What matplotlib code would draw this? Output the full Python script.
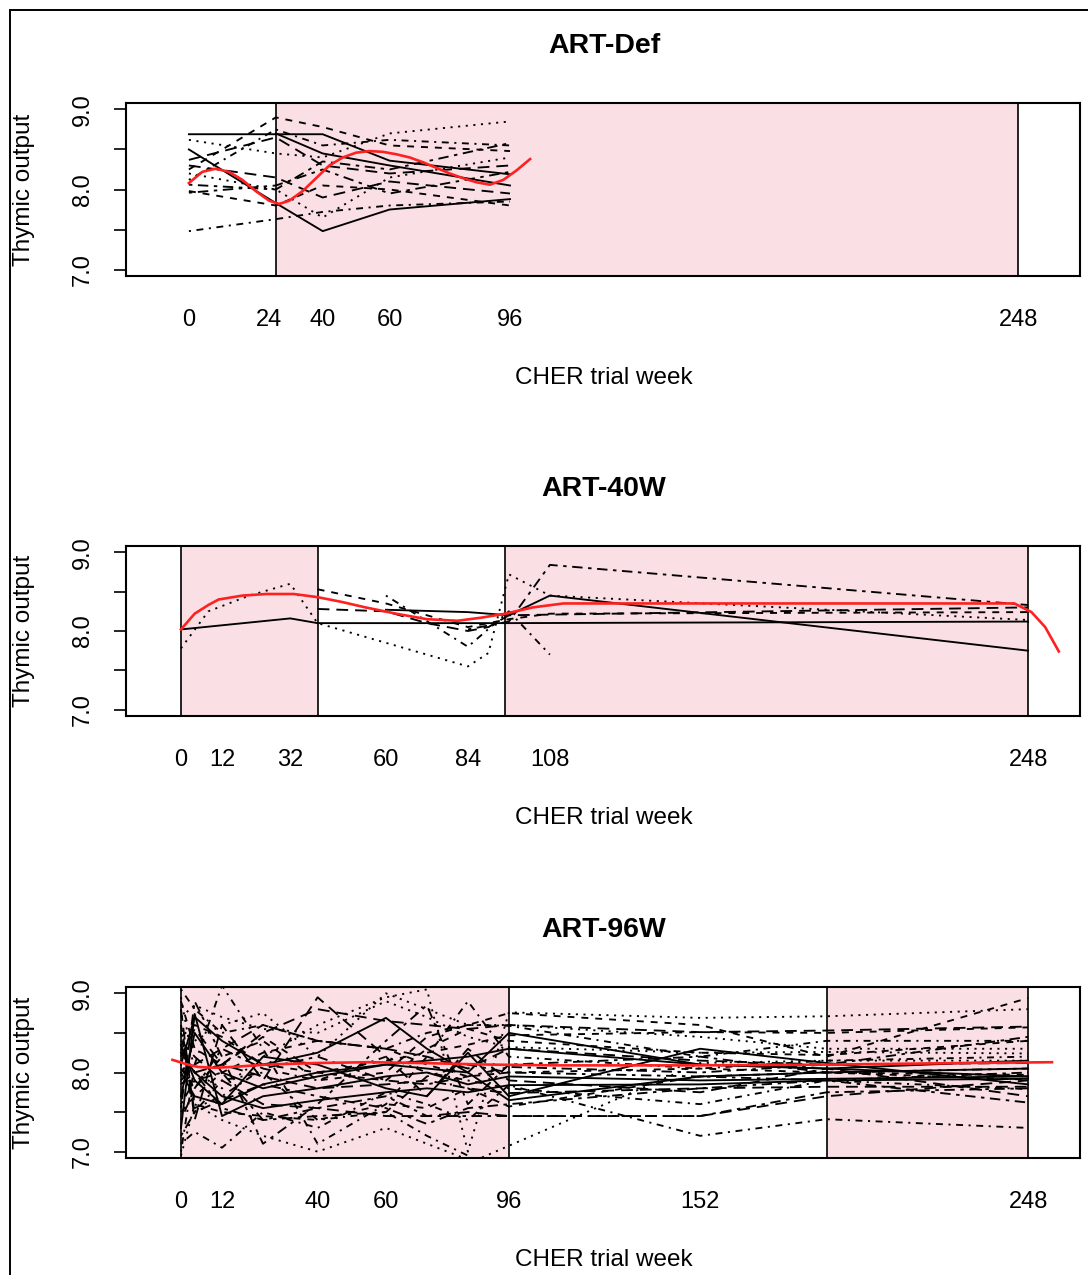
import numpy as np
import matplotlib.pyplot as plt
from matplotlib.patches import Rectangle

plt.rcParams['font.family'] = ['Liberation Sans', 'DejaVu Sans']
plt.rcParams['lines.scale_dashes'] = False

W, H = 1088, 1275
PINK = '#FAE0E5'
RED = '#FF2020'
N = np.nan

# R style line types, cycled over patients
LTY = ['-', (0, (5, 5)), (0, (1.5, 4)), (0, (1.5, 4, 5, 4)),
       (0, (8.5, 5)), (0, (2.5, 4, 7.5, 4))]

# ---------------- ART-Def ----------------
def_weeks = [0, 26, 40, 60, 96]
def_values = [
    [8.69, 8.69, 8.69, 8.36, 8.19],
    [8.25, 8.90, 8.78, 8.55, 8.48],
    [8.62, 8.45, 8.40, 8.70, 8.85],
    [7.48, 7.63, 7.72, 7.80, 7.85],
    [8.37, 8.65, 8.30, 8.20, 8.30],
    [8.06, 8.00, 8.35, 8.25, 8.58],
    [8.50, 7.83, 7.48, 7.75, 7.88],
    [7.98, 7.80, 8.05, 8.00, 7.80],
    [8.20, 8.00, 7.65, 8.15, 8.40],
    [8.12, 8.75, 8.55, 8.62, 8.55],
    [8.30, 8.15, 7.90, 8.10, 7.95],
    [7.96, 8.05, 8.25, 7.95, 8.22],
    [N, 8.70, 8.45, 8.30, 8.05],
]
def_trend_weeks = [0, 4, 8, 12, 16, 20, 24, 27, 30, 34, 38, 42, 46, 50, 54,
                   58, 62, 66, 70, 74, 78, 82, 86, 90, 94, 98, 102]
def_trend_values = [8.08, 8.22, 8.26, 8.22, 8.12, 7.98, 7.86, 7.82, 7.86, 7.98,
                    8.14, 8.30, 8.40, 8.46, 8.48, 8.47, 8.44, 8.40, 8.34, 8.27,
                    8.20, 8.14, 8.09, 8.06, 8.12, 8.24, 8.38]
def_ticks = [0, 24, 40, 60, 96, 248]
def_art = [(26, 248)]
def_cuts = [26, 248]

# ---------------- ART-40W ----------------
w40_weeks = [0, 8, 20, 32, 40, 60, 72, 84, 90, 96, 108, 248]
w40_values = [
    [8.02, N, N, 8.16, 8.10, N, N, N, N, 8.10, N, 8.12],
    [N, N, N, N, 8.53, 8.35, 8.20, 8.05, N, 8.15, 8.22, 8.24],
    [7.78, 8.25, 8.45, 8.60, 8.10, N, N, 7.55, 7.72, 8.72, 8.45, 8.14],
    [N, N, N, N, N, 8.45, N, 7.80, N, 8.25, 7.70, N],
    [N, N, N, N, 8.28, 8.25, 8.10, 8.00, 8.05, 8.20, N, 8.30],
    [N, N, N, N, N, N, N, 8.02, N, 8.12, 8.84, 8.33],
    [N, N, N, N, N, 8.27, N, 8.24, N, 8.20, 8.45, 7.75],
]
w40_trend_weeks = [0, 4, 8, 11, 18, 25, 33, 40, 47, 54, 63, 72, 81, 88, 95,
                   103, 112, 125, 150, 200, 244, 249, 253, 257]
w40_trend_values = [8.02, 8.22, 8.33, 8.40, 8.45, 8.47, 8.47, 8.43, 8.37, 8.30,
                    8.22, 8.15, 8.13, 8.17, 8.22, 8.30, 8.35, 8.35, 8.35, 8.35,
                    8.35, 8.24, 8.05, 7.74]
w40_ticks = [0, 12, 32, 60, 84, 108, 248]
w40_art = [(0, 40), (95, 248)]
w40_cuts = [0, 40, 95, 248]

# ---------------- ART-96W ----------------
w96_weeks = [0, 4, 12, 24, 40, 60, 72, 84, 96, 152, 189, 248]
w96_values = [
    [7.30, 8.74, 7.45, 7.70, 7.80, 7.95, 8.00, 7.85, 7.95, 7.90, 7.92, 7.95],
    [8.90, 8.30, 8.10, 8.45, 8.00, 7.90, 8.30, 8.55, 8.40, 8.25, 8.22, 8.40],
    [8.95, 8.00, 7.80, 8.20, 8.60, 8.95, 9.05, 7.00, 8.76, 8.69, 8.71, 8.80],
    [7.10, 7.25, 7.05, 7.50, 7.30, 7.75, 7.60, 7.40, 7.84, 7.20, 7.41, 7.30],
    [8.20, 8.55, 8.10, 8.50, 8.80, 8.65, 8.60, 8.55, 8.60, 8.51, 8.53, 8.58],
    [7.60, 7.90, 8.00, 7.40, 7.55, 7.70, 7.45, 7.45, 7.45, 7.45, 7.75, 7.80],
    [8.10, 8.70, 8.40, 8.10, 8.25, 8.69, 8.30, 8.00, 7.65, 7.95, 8.00, 8.05],
    [8.05, 7.80, 8.20, 8.40, 7.90, 8.00, 8.45, 8.60, 8.75, 8.60, 8.20, 8.94],
    [7.95, 8.40, 8.60, 8.75, 8.20, 9.00, 8.80, 8.60, 8.60, 8.45, 8.30, 8.30],
    [8.50, 7.50, 7.90, 8.00, 7.40, 7.50, 7.20, 6.95, N, N, N, N],
    [7.90, 8.10, 8.30, 8.60, 8.40, 8.30, 8.20, 8.05, 8.30, 8.15, 8.10, 8.12],
    [8.30, 8.00, 7.55, 7.40, 7.45, 7.50, 7.95, 8.10, 8.00, 7.95, 7.90, 7.62],
    [7.70, 8.50, 8.00, 7.80, 7.95, 8.10, 8.15, 8.20, 8.30, 8.10, 8.05, 8.15],
    [8.60, 7.60, 7.50, 7.45, 7.40, 7.60, 7.55, 7.80, 7.57, 7.95, 8.00, 7.97],
    [6.95, 7.60, 7.40, 7.20, 7.00, 7.30, 7.10, 6.90, N, N, N, N],
    [8.15, 7.55, 7.70, 8.05, 7.90, 8.20, 8.00, 7.90, 7.80, 7.60, 7.90, 7.79],
    [8.40, 8.20, 7.90, 7.60, 7.55, 7.45, 7.45, 7.50, 7.45, 7.45, 7.70, 7.90],
    [7.40, 7.80, 8.30, 8.05, 8.20, 7.90, 7.85, 7.95, 8.07, 8.00, 8.10, 8.45],
    [8.00, 7.70, 7.60, 7.85, 8.00, 8.10, 8.05, 8.00, 8.50, 8.10, 8.05, 7.95],
    [7.50, 7.70, 8.00, 8.25, 8.40, 8.30, 8.10, 7.95, 8.00, 8.05, 8.00, 7.91],
    [8.70, 8.85, 8.70, 8.55, 8.50, 8.90, 8.70, 8.45, 8.32, 8.25, 8.26, 8.24],
    [9.05, 8.80, 8.50, 8.60, 8.40, 8.30, 8.50, 8.60, 8.59, 8.20, 8.40, 8.40],
    [7.85, 8.00, 8.10, 7.95, 7.80, 7.85, 7.90, 7.80, 7.74, 7.80, 7.82, 7.82],
    [7.20, 7.50, 7.65, 7.85, 7.70, 7.55, 7.35, 7.55, 7.60, 7.80, 7.90, 8.00],
    [8.25, 8.00, 7.70, 7.55, 7.65, 7.75, 7.80, 7.75, 7.84, 7.85, 7.90, 7.92],
    [8.45, 8.60, 8.45, 8.10, 8.00, 8.15, 8.25, 8.35, 8.47, 8.51, 8.50, 8.57],
    [N, N, N, N, N, N, N, 6.85, N, 8.12, 8.15, 8.15],
    [7.00, 8.10, 9.10, 8.30, 7.10, 7.60, 8.20, 8.90, 8.20, 8.05, 8.15, 8.20],
    [8.80, 7.40, 8.60, 7.90, 8.95, 8.20, 7.70, 8.30, 7.90, 7.75, 8.05, 7.70],
    [7.55, 8.90, 8.20, 7.10, 7.60, 8.40, 8.85, 7.60, 8.10, 8.20, 8.00, 8.05],
    [8.35, 7.90, 7.60, 8.20, 8.10, 7.80, 7.70, 8.25, 7.70, 8.30, 8.12, 7.85],
]
w96_trend_weeks = [-2.5, 2, 5, 10, 15, 25, 40, 55, 70, 90, 110, 150, 190, 230, 255]
w96_trend_values = [8.16, 8.10, 8.07, 8.06, 8.07, 8.10, 8.12, 8.13, 8.12, 8.10,
                    8.09, 8.09, 8.10, 8.12, 8.13]
w96_ticks = [0, 12, 40, 60, 96, 152, 248]
w96_art = [(0, 96), (189, 248)]
w96_cuts = [0, 96, 189, 248]

fig = plt.figure(figsize=(W / 100, H / 100), dpi=100)
fig.patches.append(Rectangle((10 / W, -0.1), 1.2, 1.1 - 10 / H, transform=fig.transFigure,
                             fill=False, edgecolor='black', lw=1.4))


def draw_panel(box, xlim, title, weeks, values, tw, tv, ticks, spans, cuts):
    x0, y0, x1, y1 = box
    ax = fig.add_axes([x0 / W, 1 - y1 / H, (x1 - x0) / W, (y1 - y0) / H])
    for a, b in spans:
        ax.axvspan(a, b, color=PINK, lw=0, zorder=0)
    for c in cuts:
        ax.axvline(c, color='black', lw=1.2, zorder=1)
    wk = np.array(weeks, float)
    for i, row in enumerate(values):
        v = np.array(row, float)
        ok = ~np.isnan(v)
        ax.plot(wk[ok], v[ok], color='black', lw=1.35, ls=LTY[i % 6], zorder=2)
    ax.plot(tw, tv, color=RED, lw=1.9, zorder=3)

    ax.set_xlim(*xlim)
    ax.set_ylim(6.92, 9.08)
    ax.set_xticks(ticks)
    ax.set_xticklabels([str(t) for t in ticks], fontsize=17)
    ax.tick_params(axis='x', length=0, pad=24)
    ax.set_yticks([7.0, 7.5, 8.0, 8.5, 9.0])
    ax.set_yticklabels(['7.0', '', '8.0', '', '9.0'], fontsize=17, rotation=90, va='center')
    ax.tick_params(axis='y', length=9, width=1.2, pad=14, direction='out')
    for s in ax.spines.values():
        s.set_linewidth(1.5)

    xc = 604 / W
    fig.text(xc, 1 - (y0 - 57) / H, title, ha='center', va='center', fontsize=20.5,
             fontweight='bold')
    fig.text(xc, 1 - (y1 + 102) / H, 'CHER trial week', ha='center', va='center', fontsize=17.5)
    fig.text(24 / W, 1 - (y0 + y1) / 2 / H, 'Thymic output', ha='center', va='center',
             rotation=90, fontsize=17.5)
    return ax


draw_panel((126, 103, 1080, 276), (-18.8, 266.4), 'ART-Def', def_weeks, def_values,
           def_trend_weeks, def_trend_values, def_ticks, def_art, def_cuts)
draw_panel((126, 546, 1080, 716), (-16.1, 263.2), 'ART-40W', w40_weeks, w40_values,
           w40_trend_weeks, w40_trend_values, w40_ticks, w40_art, w40_cuts)
draw_panel((126, 987, 1080, 1158), (-16.1, 263.2), 'ART-96W', w96_weeks, w96_values,
           w96_trend_weeks, w96_trend_values, w96_ticks, w96_art, w96_cuts)

fig.savefig('out.png', dpi=100)
